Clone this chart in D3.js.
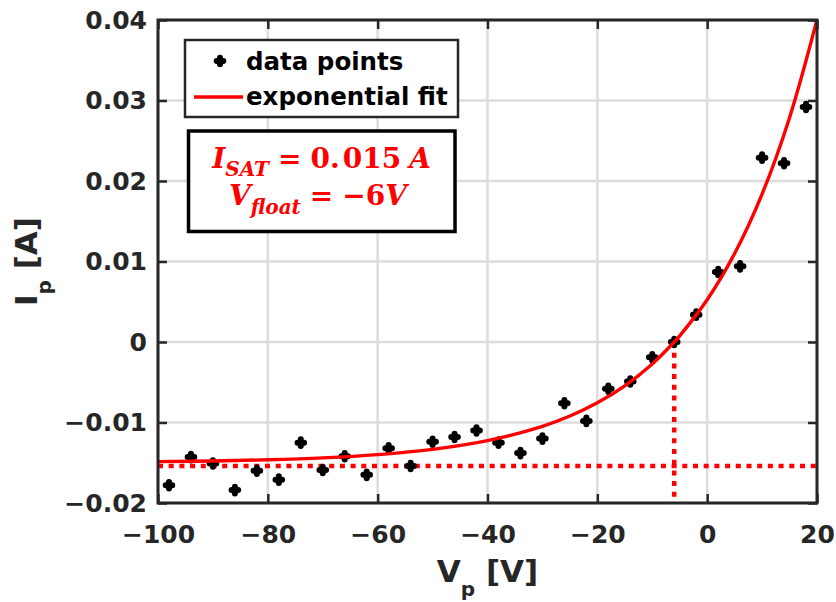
<!DOCTYPE html>
<html>
<head>
<meta charset="utf-8">
<script src="https://cdn.jsdelivr.net/npm/d3@7"></script>
<style>
  html, body { margin: 0; padding: 0; background: #fff; }
  svg { display: block; }
</style>
</head>
<body>
<div id="chart"></div>
<script>
// ---- data ----
const probeV = [-98, -94, -90, -86, -82, -78, -74, -70, -66, -62, -58, -54, -50, -46, -42,
                -38, -34, -30, -26, -22, -18, -14, -10, -6, -2, 2, 6, 10, 14, 18];
const probeI = [-0.0178, -0.0143, -0.0151, -0.0184, -0.0160, -0.0171, -0.0125, -0.0159, -0.0142, -0.0165,
                -0.0132, -0.0154, -0.0124, -0.0118, -0.0110, -0.0125, -0.0138, -0.0120, -0.0076, -0.0098,
                -0.0058, -0.0049, -0.0019, 0.0000, 0.0034, 0.0087, 0.0094, 0.0229, 0.0222, 0.0292];
const fitV = [-100, -90, -80, -70, -60, -50, -40, -30, -25, -20, -15, -10, -6, -5, 0, 5, 10, 15, 20];
const fitI = [-0.01486, -0.01478, -0.01463, -0.01439, -0.01399, -0.01334, -0.01226, -0.01048, -0.00920,
              -0.00755, -0.00544, -0.00272, 0, 0.00077, 0.00525, 0.01100, 0.01838, 0.02787, 0.04004];
const satLevel = -0.0154;   // horizontal dotted line
const vFloat = -6;          // vertical dotted line
const xTicks = [-100, -80, -60, -40, -20, 0, 20];
const yTicks = [-0.02, -0.01, 0, 0.01, 0.02, 0.03, 0.04];
const yTickLabels = ["\u22120.02", "\u22120.01", "0", "0.01", "0.02", "0.03", "0.04"];
const xTickLabels = ["\u2212100", "\u221280", "\u221260", "\u221240", "\u221220", "0", "20"];
const legendLabels = ["data points", "exponential fit"];

// ---- layout ----
const W = 836, H = 602;
const L = 158, R = 817, T = 20, B = 503;
const AX = "#262626";
const RED = "#ff0000";

const svg = d3.select("#chart").append("svg").attr("width", W).attr("height", H);
svg.append("rect").attr("width", W).attr("height", H).attr("fill", "#fff");

const x = d3.scaleLinear().domain([-100, 20]).range([L, R]);
const y = d3.scaleLinear().domain([-0.02, 0.04]).range([B, T]);

// grid
const grid = svg.append("g");
grid.selectAll("line.gx").data(xTicks).join("line")
  .attr("x1", d => x(d)).attr("x2", d => x(d)).attr("y1", T).attr("y2", B)
  .attr("stroke", "#dcdcdc").attr("stroke-width", 2.5);
grid.selectAll("line.gy").data(yTicks).join("line")
  .attr("y1", d => y(d)).attr("y2", d => y(d)).attr("x1", L).attr("x2", R)
  .attr("stroke", "#dcdcdc").attr("stroke-width", 2.5);

svg.append("defs").append("clipPath").attr("id", "clip")
  .append("rect").attr("x", L).attr("y", T - 2).attr("width", R - L).attr("height", B - T + 2);

const plot = svg.append("g").attr("clip-path", "url(#clip)");

// dotted guide lines
plot.append("line")
  .attr("x1", x(-100)).attr("x2", x(20)).attr("y1", y(satLevel)).attr("y2", y(satLevel))
  .attr("stroke", RED).attr("stroke-width", 4.5).attr("stroke-dasharray", "5,5.7");
plot.append("line")
  .attr("x1", x(vFloat)).attr("x2", x(vFloat)).attr("y1", y(0)).attr("y2", y(-0.02))
  .attr("stroke", RED).attr("stroke-width", 4.5).attr("stroke-dasharray", "5,5.7");

// data points
const markerPath = "M-3.3,0H3.3M0,-3.3V3.3";
plot.selectAll("path.pt").data(probeV).join("path")
  .attr("class", "pt")
  .attr("transform", (d, i) => `translate(${x(d)},${y(probeI[i])})`)
  .attr("d", markerPath)
  .attr("stroke", "#000").attr("stroke-width", 6).attr("stroke-linecap", "round")
  .attr("fill", "none");

// fit curve
const line = d3.line().x(d => x(d[0])).y(d => y(d[1])).curve(d3.curveCatmullRom.alpha(0.5));
plot.append("path")
  .datum(fitV.map((v, i) => [v, fitI[i]]))
  .attr("d", line)
  .attr("fill", "none").attr("stroke", RED).attr("stroke-width", 3.4);

// axes (ticks inward, box)
const tickFont = "DejaVu Sans, sans-serif";
function styleAxis(g) {
  g.select(".domain").remove();
  g.selectAll(".tick line").attr("stroke", AX).attr("stroke-width", 2.5);
  g.selectAll(".tick text").attr("fill", AX).attr("font-family", tickFont)
    .attr("font-weight", "bold").attr("font-size", 25);
}
svg.append("g").attr("transform", `translate(0,${B})`)
  .call(d3.axisBottom(x).tickValues(xTicks).tickFormat((d, i) => xTickLabels[i])
        .tickSizeInner(-9).tickSizeOuter(0).tickPadding(22))
  .call(styleAxis);
svg.append("g").attr("transform", `translate(${L},0)`)
  .call(d3.axisLeft(y).tickValues(yTicks).tickFormat((d, i) => yTickLabels[i])
        .tickSizeInner(-9).tickSizeOuter(0).tickPadding(11))
  .call(styleAxis);
svg.append("g").attr("transform", `translate(0,${T})`)
  .call(d3.axisTop(x).tickValues(xTicks).tickFormat("").tickSizeInner(-9).tickSizeOuter(0))
  .call(styleAxis);
svg.append("g").attr("transform", `translate(${R},0)`)
  .call(d3.axisRight(y).tickValues(yTicks).tickFormat("").tickSizeInner(-9).tickSizeOuter(0))
  .call(styleAxis);
svg.append("rect").attr("x", L).attr("y", T).attr("width", R - L).attr("height", B - T)
  .attr("fill", "none").attr("stroke", AX).attr("stroke-width", 3);

// axis labels
const xl = svg.append("text").attr("x", (L + R) / 2).attr("y", 582)
  .attr("text-anchor", "middle").attr("fill", AX).attr("font-family", tickFont)
  .attr("font-weight", "bold").attr("font-size", 31);
xl.append("tspan").text("V");
xl.append("tspan").attr("font-size", 20).attr("dy", 14).text("p");
xl.append("tspan").attr("dy", -14).text("\u00a0[V]");

const yl = svg.append("text").attr("transform", `translate(37,${(T + B) / 2}) rotate(-90)`)
  .attr("text-anchor", "middle").attr("fill", AX).attr("font-family", tickFont)
  .attr("font-weight", "bold").attr("font-size", 31);
yl.append("tspan").text("I");
yl.append("tspan").attr("font-size", 20).attr("dy", 14).text("p");
yl.append("tspan").attr("dy", -14).text("\u00a0[A]");

// legend
const lg = svg.append("g");
lg.append("rect").attr("x", 185).attr("y", 40).attr("width", 273).attr("height", 77)
  .attr("fill", "#fff").attr("stroke", AX).attr("stroke-width", 2.5);
lg.append("path").attr("transform", "translate(220,61)").attr("d", markerPath)
  .attr("stroke", "#000").attr("stroke-width", 6).attr("stroke-linecap", "round");
lg.append("line").attr("x1", 194).attr("x2", 243).attr("y1", 97).attr("y2", 97)
  .attr("stroke", RED).attr("stroke-width", 3.4);
lg.selectAll("text").data(legendLabels).join("text")
  .attr("x", 246).attr("y", (d, i) => 70 + i * 35)
  .attr("fill", "#000").attr("font-family", tickFont).attr("font-weight", "bold")
  .attr("font-size", 24.5).text(d => d);

// annotation box
const an = svg.append("g");
an.append("rect").attr("x", 188.5).attr("y", 131).attr("width", 266.5).attr("height", 100.5)
  .attr("fill", "#fff").attr("stroke", "#000").attr("stroke-width", 3.5);
const serif = "DejaVu Serif, Liberation Serif, serif";
const l1 = an.append("text").attr("x", 321.5).attr("y", 168).attr("text-anchor", "middle")
  .attr("fill", RED).attr("font-family", serif).attr("font-weight", "bold").attr("font-size", 28);
l1.append("tspan").attr("font-style", "italic").text("I");
l1.append("tspan").attr("font-style", "italic").attr("font-size", 20).attr("dy", 8).text("SAT");
l1.append("tspan").attr("dy", -8).attr("dx", 9).text("=");
l1.append("tspan").attr("dx", 9).text("0.");
l1.append("tspan").attr("dx", 3).text("015");
l1.append("tspan").attr("dx", 8).attr("font-style", "italic").text("A");

const l2 = an.append("text").attr("x", 318).attr("y", 205).attr("text-anchor", "middle")
  .attr("fill", RED).attr("font-family", serif).attr("font-weight", "bold").attr("font-size", 28);
l2.append("tspan").attr("font-style", "italic").text("V");
l2.append("tspan").attr("font-style", "italic").attr("font-size", 20).attr("dy", 9).text("float");
l2.append("tspan").attr("dy", -9).attr("dx", 9).text("=");
l2.append("tspan").attr("dx", 9).text("\u22126");
l2.append("tspan").attr("font-style", "italic").text("V");
</script>
</body>
</html>
